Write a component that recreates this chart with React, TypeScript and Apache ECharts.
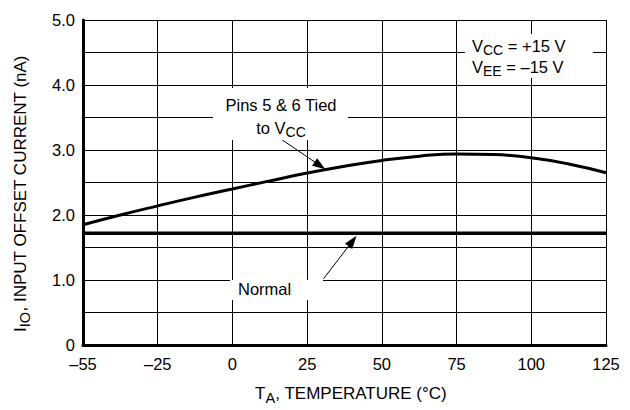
import React, { useEffect, useRef } from 'react';
import * as echarts from 'echarts';

// Axis ticks (temperature, °C) – equally spaced on the printed chart
const tickTemps = [-55, -25, 0, 25, 50, 75, 100, 125];
const tickLabels = ['–55', '–25', '0', '25', '50', '75', '100', '125'];

// "Pins 5 & 6 Tied to VCC" curve (nA)
const tiedTemps = [-55, -40, -25, -12.5, 0, 12.5, 25, 37.5, 50, 62.5, 75, 87.5, 100, 112.5, 125];
const tiedValues = [1.85, 2.0, 2.14, 2.275, 2.4, 2.525, 2.645, 2.75, 2.84, 2.905, 2.94, 2.93, 2.88, 2.785, 2.65];

// "Normal" curve (nA)
const normalTemps = [-55, 125];
const normalValues = [1.72, 1.72];

// Annotation arrows [temp, nA]
const tiedArrowFrom = [16.5, 3.16];
const tiedArrowTo = [29.3, 2.76];
const normalArrowFrom = [30.5, 1.02];
const normalArrowTo = [40.2, 1.6];

const FONT = '"Liberation Sans", Arial, Helvetica, sans-serif';

function tempToPos(t: number): number {
  for (let i = 0; i < tickTemps.length - 1; i++) {
    const a = tickTemps[i];
    const b = tickTemps[i + 1];
    if (t <= b || i === tickTemps.length - 2) return i + (t - a) / (b - a);
  }
  return 0;
}

const richText = {
  n: { fontSize: 16.5, fontFamily: FONT, color: '#000', lineHeight: 22 },
  s: { fontSize: 14, fontFamily: FONT, color: '#000', lineHeight: 12, verticalAlign: 'bottom' },
};

const nameRich = {
  n: { fontSize: 17, fontFamily: FONT, color: '#000', lineHeight: 24 },
  s: { fontSize: 14.5, fontFamily: FONT, color: '#000', lineHeight: 12, verticalAlign: 'bottom' },
};

export default function App() {
  const ref = useRef<HTMLDivElement>(null);

  useEffect(() => {
    if (!ref.current) return;
    const chart = echarts.init(ref.current, undefined, { renderer: 'svg' });

    const textEl = (x: number, y: number, text: string, align: string) => ({
      type: 'text',
      x,
      y,
      z: 101,
      style: {
        text,
        rich: richText,
        fill: '#000',
        fontSize: 16.5,
        fontFamily: FONT,
        align,
        verticalAlign: 'middle',
      },
    });
    const box = (x: number, y: number, width: number, height: number) => ({
      type: 'rect',
      z: 100,
      shape: { x, y, width, height },
      style: { fill: '#fff' },
    });

    chart.setOption({
      animation: false,
      backgroundColor: '#fff',
      grid: { left: 83, top: 20, width: 523, height: 328, containLabel: false },
      xAxis: {
        type: 'value',
        min: 0,
        max: tickTemps.length - 1,
        interval: 1,
        name: '{a|T}{s|A}{n|, TEMPERATURE (°C)}',
        nameLocation: 'middle',
        nameGap: 36,
        nameTextStyle: {
          rich: { a: { ...nameRich.n, padding: [0, 0, 0, 13] }, n: nameRich.n, s: nameRich.s },
        },
        axisLine: { show: true, lineStyle: { color: '#000', width: 3 } },
        axisTick: { show: false },
        axisLabel: {
          margin: 10,
          color: '#000',
          fontSize: 16.5,
          fontFamily: FONT,
          formatter: (v: number) => tickLabels[Math.round(v)] ?? '',
        },
        splitLine: { show: true, lineStyle: { color: '#000', width: 1 } },
      },
      yAxis: {
        type: 'value',
        min: 0,
        max: 5,
        interval: 0.5,
        name: '{n|I}{s|IO}{e|, INPUT OFFSET CURRENT (nA)}',
        nameLocation: 'middle',
        nameRotate: 90,
        nameGap: 51,
        nameTextStyle: {
          rich: { n: nameRich.n, s: nameRich.s, e: { ...nameRich.n, padding: [0, 22, 0, 0] } },
        },
        axisLine: { show: true, lineStyle: { color: '#000', width: 3 } },
        axisTick: { show: false },
        axisLabel: {
          margin: 8,
          color: '#000',
          fontSize: 16.5,
          fontFamily: FONT,
          formatter: (v: number) => (v === 0 ? '0' : Number.isInteger(v) ? v.toFixed(1) : ''),
        },
        splitLine: { show: true, lineStyle: { color: '#000', width: 1 } },
      },
      series: [
        {
          name: 'Pins 5 & 6 Tied to VCC',
          type: 'line',
          data: tiedTemps.map((t, i) => [tempToPos(t), tiedValues[i]]),
          smooth: 0.5,
          showSymbol: false,
          symbol: 'none',
          lineStyle: { color: '#000', width: 3 },
          z: 5,
        },
        {
          name: 'Normal',
          type: 'line',
          data: normalTemps.map((t, i) => [tempToPos(t), normalValues[i]]),
          showSymbol: false,
          symbol: 'none',
          lineStyle: { color: '#000', width: 3.5 },
          z: 5,
          markLine: {
            silent: true,
            symbol: ['none', 'triangle'],
            symbolSize: [9, 13],
            label: { show: false },
            lineStyle: { color: '#000', width: 1, type: 'solid' },
            itemStyle: { color: '#000' },
            emphasis: { disabled: true },
            data: [
              [
                { coord: [tempToPos(tiedArrowFrom[0]), tiedArrowFrom[1]] },
                { coord: [tempToPos(tiedArrowTo[0]), tiedArrowTo[1]] },
              ],
              [
                { coord: [tempToPos(normalArrowFrom[0]), normalArrowFrom[1]] },
                { coord: [tempToPos(normalArrowTo[0]), normalArrowTo[1]] },
              ],
            ],
          },
        },
      ],
      graphic: [
        box(213, 88, 135, 52),
        box(465, 34, 128, 44),
        box(230, 280, 93, 20),
        textEl(281, 105, '{n|Pins 5 & 6 Tied}', 'center'),
        textEl(281, 127.5, '{n|to V}{s|CC}', 'center'),
        textEl(238, 289, '{n|Normal}', 'left'),
        textEl(472, 46, '{n|V}{s|CC}{n| = +15 V}', 'left'),
        textEl(472, 67, '{n|V}{s|EE}{n| = –15 V}', 'left'),
      ],
    });

    return () => chart.dispose();
  }, []);

  return <div ref={ref} style={{ width: 630, height: 410, position: 'absolute', left: 0, top: 0 }} />;
}
